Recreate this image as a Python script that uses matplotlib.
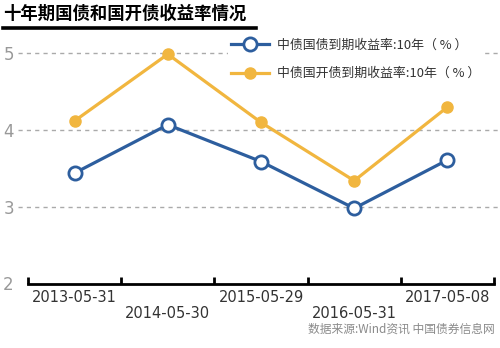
import numpy as np
import matplotlib.pyplot as plt
from matplotlib.lines import Line2D
from matplotlib.font_manager import FontProperties

plt.rcParams['font.family'] = ['DejaVu Sans', 'Noto Sans CJK SC']

dates = ['2013-05-31', '2014-05-30', '2015-05-29', '2016-05-31', '2017-05-08']
gov_yield = [3.44, 4.07, 3.59, 2.98, 3.61]      # 中债国债到期收益率:10年
cdb_yield = [4.12, 4.99, 4.10, 3.34, 4.30]      # 中债国开债到期收益率:10年
gov_label = '中债国债到期收益率:10年（ % ）'
cdb_label = '中债国开债到期收益率:10年（ % ）'
title = '十年期国债和国开债收益率情况'
source = '数据来源:Wind资讯 中国债券信息网'
yticks = [2, 3, 4, 5]

blue = '#2d5e9e'
yellow = '#f1b63f'
cjk = ['Noto Sans CJK SC', 'DejaVu Sans']

W, H = 500, 348
fig = plt.figure(figsize=(W / 100, H / 100), dpi=100)

# axes geometry in pixels
px_unit = 76.7
y_lo, y_hi = 2, 5.2
ax_left, ax_right = 18, 500
ax_bottom = 283.5
ax = fig.add_axes([ax_left / W, (H - ax_bottom) / H,
                   (ax_right - ax_left) / W, (y_hi - y_lo) * px_unit / H])

x = np.arange(len(dates))
xunit = (494 - 28) / len(dates)
ax.set_xlim(-0.5 - (28 - ax_left) / xunit, 4.5 + (ax_right - 494) / xunit)
ax.set_ylim(y_lo, y_hi)

ax.plot(x, cdb_yield, color=yellow, lw=2.3, marker='o', ms=8,
        mfc=yellow, mec=yellow, label=cdb_label, zorder=3)
ax.plot(x, gov_yield, color=blue, lw=2.3, marker='o', ms=9.5,
        mfc='white', mec=blue, mew=2, label=gov_label, zorder=4)

for s in ['top', 'right', 'left']:
    ax.spines[s].set_visible(False)
ax.spines['bottom'].set_linewidth(2)
ax.spines['bottom'].set_bounds(-0.5, 4.5)

ax.set_yticks(yticks)
ax.set_yticklabels([str(v) for v in yticks])
ax.tick_params(axis='y', length=0, pad=3, labelsize=12, labelcolor='#999999')
ax.yaxis.grid(True, linestyle=(0, (3, 3)), color='#aaaaaa', lw=1)
ax.get_ygridlines()[0].set_visible(False)

ax.set_xticks(x)
ax.set_xticklabels(dates)
ax.set_xticks(np.arange(-0.5, 5, 1), minor=True)
ax.tick_params(axis='x', which='major', length=0, labelsize=10.5,
               labelcolor='#333333')
ax.tick_params(axis='x', which='minor', direction='in', length=5, width=2)
for i, t in enumerate(ax.xaxis.get_major_ticks()):
    t.set_pad(5 if i % 2 == 0 else 16)

handles, labels = ax.get_legend_handles_labels()
leg = ax.legend(handles[::-1], labels[::-1], loc='upper left',
                bbox_to_anchor=(228 / W, 1 - 36 / H), bbox_transform=fig.transFigure,
                prop=FontProperties(family=cjk, size=9.3),
                frameon=True, facecolor='white', edgecolor='none',
                framealpha=1, handlelength=3.0, handletextpad=0.6,
                labelspacing=1.2, borderpad=0.2, borderaxespad=0)
for t in leg.get_texts():
    t.set_color('#333333')

fig.text(3 / W, 1 - 14 / H, title, fontsize=12.5, fontweight='bold',
         va='center', ha='left', family=cjk)
fig.add_artist(Line2D([3 / W, 256 / W], [1 - 28 / H, 1 - 28 / H],
                      color='black', lw=2.6, transform=fig.transFigure))
fig.text(495 / W, 1 - 329 / H, source, fontsize=8.5, color='#8a8a8a',
         ha='right', va='center', family=cjk)

fig.savefig('out.png', dpi=100)
